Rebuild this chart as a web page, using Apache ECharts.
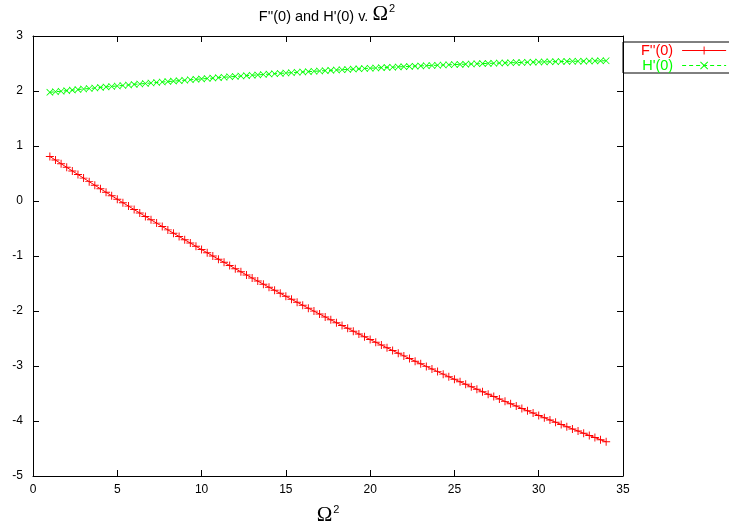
<!DOCTYPE html>
<html>
<head>
<meta charset="utf-8">
<script src="https://cdn.jsdelivr.net/npm/echarts@6/dist/echarts.min.js"></script>
<style>html,body{margin:0;padding:0;background:#fff}#c{width:729px;height:528px}</style>
</head>
<body>
<div id="c"></div>
<script>
const omega2 = [1,1.333,1.667,2,2.333,2.667,3,3.333,3.667,4,4.333,4.667,5,5.333,5.667,6,6.333,6.667,7,7.333,7.667,8,8.333,8.667,9,9.333,9.667,10,10.333,10.667,11,11.333,11.667,12,12.333,12.667,13,13.333,13.667,14,14.333,14.667,15,15.333,15.667,16,16.333,16.667,17,17.333,17.667,18,18.333,18.667,19,19.333,19.667,20,20.333,20.667,21,21.333,21.667,22,22.333,22.667,23,23.333,23.667,24,24.333,24.667,25,25.333,25.667,26,26.333,26.667,27,27.333,27.667,28,28.333,28.667,29,29.333,29.667,30,30.333,30.667,31,31.333,31.667,32,32.333,32.667,33,33.333,33.667,34];
const Fpp0 = [0.81,0.744,0.678,0.612,0.546,0.481,0.416,0.352,0.287,0.223,0.159,0.096,0.032,-0.031,-0.093,-0.156,-0.218,-0.280,-0.342,-0.402,-0.463,-0.525,-0.585,-0.645,-0.705,-0.764,-0.823,-0.883,-0.941,-1.000,-1.058,-1.115,-1.173,-1.231,-1.287,-1.344,-1.401,-1.456,-1.512,-1.568,-1.623,-1.678,-1.733,-1.787,-1.841,-1.895,-1.949,-2.002,-2.055,-2.108,-2.160,-2.212,-2.264,-2.315,-2.367,-2.418,-2.468,-2.519,-2.569,-2.619,-2.669,-2.718,-2.767,-2.816,-2.864,-2.912,-2.960,-3.007,-3.054,-3.102,-3.148,-3.195,-3.241,-3.287,-3.332,-3.378,-3.422,-3.467,-3.512,-3.556,-3.600,-3.643,-3.686,-3.729,-3.772,-3.814,-3.856,-3.899,-3.940,-3.981,-4.022,-4.063,-4.103,-4.144,-4.183,-4.223,-4.262,-4.301,-4.340,-4.378];
const Hp0 = [1.976,1.986,1.996,2.006,2.016,2.026,2.036,2.045,2.055,2.065,2.074,2.083,2.092,2.101,2.110,2.120,2.128,2.137,2.146,2.154,2.163,2.171,2.180,2.188,2.196,2.204,2.212,2.220,2.227,2.235,2.243,2.250,2.258,2.265,2.272,2.279,2.286,2.293,2.300,2.307,2.314,2.320,2.327,2.333,2.340,2.346,2.352,2.358,2.364,2.370,2.376,2.381,2.387,2.392,2.398,2.403,2.409,2.414,2.419,2.424,2.429,2.433,2.438,2.443,2.447,2.452,2.456,2.460,2.464,2.469,2.473,2.477,2.481,2.484,2.488,2.491,2.495,2.498,2.502,2.505,2.508,2.511,2.514,2.516,2.519,2.522,2.524,2.527,2.529,2.532,2.534,2.536,2.538,2.540,2.542,2.543,2.545,2.547,2.548,2.550];
const seriesNames = ["F''(0)", "H'(0)"];

const plusPath = 'path://M4.4,0 H5.6 V4.4 H10 V5.6 H5.6 V10 H4.4 V5.6 H0 V4.4 H4.4 Z';
const crossPath = 'path://M0,0.8 L0.8,0 L5,4.2 L9.2,0 L10,0.8 L5.8,5 L10,9.2 L9.2,10 L5,5.8 L0.8,10 L0,9.2 L4.2,5 Z';

function pairs(xs, ys){ return xs.map((x,i)=>[x, ys[i]]); }

const chart = echarts.init(document.getElementById('c'), null, {renderer:'canvas'});
const axisFont = {fontFamily:'Liberation Sans, Arial, sans-serif', fontSize:12, color:'#000'};
chart.setOption({
  animation:false,
  backgroundColor:'#fff',
  title:{
    text:"{a|F''(0) and H'(0) v. }{b|Ω}{c|2}",
    left:322, top:-2, textAlign:'center',
    textStyle:{fontWeight:'normal', rich:{
      a:{fontFamily:'Liberation Sans, Arial, sans-serif', fontSize:14.5, fontWeight:'normal', color:'#000', verticalAlign:'bottom', padding:[0,0,1,0]},
      b:{fontFamily:'Liberation Serif, Times New Roman, serif', fontSize:21, fontWeight:'normal', color:'#000', verticalAlign:'bottom'},
      c:{fontFamily:'Liberation Sans, Arial, sans-serif', fontSize:11, fontWeight:'normal', color:'#000', verticalAlign:'top', padding:[0,0,11,1]}
    }}
  },
  legend:{
    orient:'vertical', left:623, top:42, align:'right',
    itemWidth:44, itemHeight:10, itemGap:0,
    padding:[1,60,0,18],
    borderColor:'#000', borderWidth:1,
    lineStyle:{width:1},
    data:[
      {name:seriesNames[0], textStyle:{color:'#ff0000'}},
      {name:seriesNames[1], textStyle:{color:'#00ff00'}}
    ],
    textStyle:{fontFamily:'Liberation Sans, Arial, sans-serif', fontSize:14.5, lineHeight:14, padding:[0,4,0,0]}
  },
  grid:{left:33, right:106, top:36, bottom:52, show:false, outerBoundsMode:'none', containLabel:false},
  xAxis:[
    {type:'value', min:0, max:35, interval:5, position:'bottom',
     axisLine:{show:true, onZero:false, lineStyle:{color:'#000', width:1}},
     axisTick:{show:true, inside:true, length:6, lineStyle:{color:'#000'}},
     axisLabel:Object.assign({margin:8}, axisFont),
     splitLine:{show:false},
     name:'{b|Ω}{c|2}', nameLocation:'middle', nameGap:28,
     nameTextStyle:{rich:{
       b:{fontFamily:'Liberation Serif, Times New Roman, serif', fontSize:21, color:'#000', verticalAlign:'bottom'},
       c:{fontFamily:'Liberation Sans, Arial, sans-serif', fontSize:11, color:'#000', verticalAlign:'top', padding:[0,0,11,1]}
     }}
    },
    {type:'value', min:0, max:35, interval:5, position:'top',
     axisLine:{show:true, onZero:false, lineStyle:{color:'#000', width:1}},
     axisTick:{show:true, inside:true, length:6, lineStyle:{color:'#000'}},
     axisLabel:{show:false}, splitLine:{show:false}}
  ],
  yAxis:[
    {type:'value', min:-5, max:3, interval:1, position:'left',
     axisLine:{show:true, onZero:false, lineStyle:{color:'#000', width:1}},
     axisTick:{show:true, inside:true, length:6, lineStyle:{color:'#000'}},
     axisLabel:Object.assign({margin:10}, axisFont),
     splitLine:{show:false}},
    {type:'value', min:-5, max:3, interval:1, position:'right',
     axisLine:{show:true, onZero:false, lineStyle:{color:'#000', width:1}},
     axisTick:{show:true, inside:true, length:6, lineStyle:{color:'#000'}},
     axisLabel:{show:false}, splitLine:{show:false}}
  ],
  series:[
    {name:seriesNames[0], type:'line', xAxisIndex:0, yAxisIndex:0,
     data:pairs(omega2, Fpp0),
     symbol:plusPath, symbolSize:8, showAllSymbol:true,
     lineStyle:{color:'#ff0000', width:1},
     itemStyle:{color:'#ff0000'}},
    {name:seriesNames[1], type:'line', xAxisIndex:0, yAxisIndex:0,
     data:pairs(omega2, Hp0),
     symbol:crossPath, symbolSize:7, showAllSymbol:true,
     lineStyle:{color:'#00ff00', width:1, type:[4,3]},
     itemStyle:{color:'#00ff00'}}
  ]
});
</script>
</body>
</html>
